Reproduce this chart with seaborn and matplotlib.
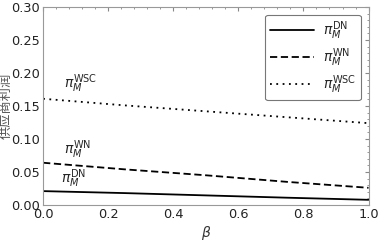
import numpy as np
import pandas as pd
import seaborn as sns
import matplotlib.pyplot as plt
from matplotlib.ticker import MultipleLocator, AutoMinorLocator

# =========================
# Data
# =========================
beta = [0.0, 0.25, 0.5, 0.75, 1.0]
profit_dn = [0.021, 0.018, 0.0145, 0.011, 0.0078]
profit_wn = [0.064, 0.054, 0.045, 0.035, 0.026]
profit_wsc = [0.161, 0.151, 0.142, 0.133, 0.124]

series_names = [r"$\pi_M^{\mathrm{DN}}$", r"$\pi_M^{\mathrm{WN}}$", r"$\pi_M^{\mathrm{WSC}}$"]

df = pd.DataFrame({
    "beta": beta * 3,
    "profit": profit_dn + profit_wn + profit_wsc,
    "series": [series_names[0]] * 5 + [series_names[1]] * 5 + [series_names[2]] * 5,
})

# =========================
# Plot
# =========================
sns.set_style("white")
plt.rcParams["font.family"] = ["DejaVu Sans", "Noto Sans CJK SC"]
plt.rcParams["mathtext.fontset"] = "dejavusans"

fig = plt.figure(figsize=(3.78, 2.44), dpi=100)
ax = fig.add_axes([0.114, 0.16, 0.861, 0.811])

styles = {series_names[0]: "-", series_names[1]: (0, (4, 2)), series_names[2]: (0, (1, 2.5))}
for name in series_names:
    sub = df[df["series"] == name]
    sns.lineplot(data=sub, x="beta", y="profit", ax=ax, color="black",
                 linestyle=styles[name], linewidth=1.3, label=name)

ax.set_xlim(0, 1.0)
ax.set_ylim(0, 0.30)
ax.xaxis.set_major_locator(MultipleLocator(0.2))
ax.yaxis.set_major_locator(MultipleLocator(0.05))
ax.xaxis.set_minor_locator(AutoMinorLocator(5))
ax.yaxis.set_minor_locator(AutoMinorLocator(5))
ax.tick_params(which="both", direction="in", top=True, right=True, color="#888888")
ax.tick_params(which="major", length=3, labelsize=9.3, labelcolor="#222222", pad=2)
ax.tick_params(which="minor", length=1.5)
ax.set_xticklabels([f"{v:.1f}" for v in ax.get_xticks()])
ax.set_yticklabels([f"{v:.2f}" for v in ax.get_yticks()])
for s in ax.spines.values():
    s.set_color("#999999")
    s.set_linewidth(0.8)

ax.set_xlabel(r"$\beta$", fontsize=10, color="#333333", labelpad=2)
ax.set_ylabel("供应商利润", fontsize=9.5, color="#555555", va="center",
              family=["Noto Sans CJK SC", "DejaVu Sans"])
ax.yaxis.set_label_coords(-0.112, 0.5)

ax.text(0.065, 0.178, series_names[2], fontsize=10)
ax.text(0.065, 0.078, series_names[1], fontsize=10)
ax.text(0.055, 0.034, series_names[0], fontsize=10)

leg = ax.legend(loc="upper right", fontsize=10, handlelength=3.2, frameon=True,
                fancybox=True, borderpad=0.35, labelspacing=0.3, handletextpad=0.6,
                bbox_to_anchor=(0.997, 0.997))
leg.get_frame().set_edgecolor("#555555")
leg.get_frame().set_linewidth(0.8)

plt.savefig("out.png", dpi=100)
plt.close()
